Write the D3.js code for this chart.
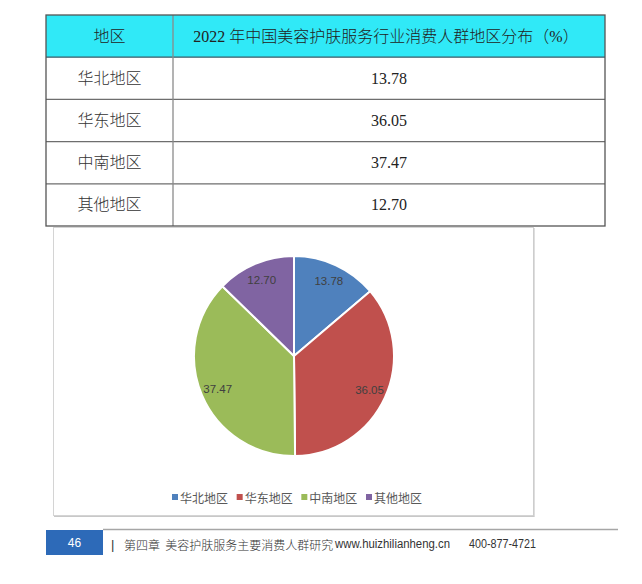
<!DOCTYPE html>
<html>
<head>
<meta charset="utf-8">
<script src="https://cdn.jsdelivr.net/npm/d3@7"></script>
<style>
  html, body { margin: 0; padding: 0; background: #fff; }
  svg { display: block; }
</style>
</head>
<body>
<div id="chart"></div>
<script>
// ---- data ----
const tableHeader = ["地区", "2022 年中国美容护肤服务行业消费人群地区分布（%）"];
const regions = ["华北地区", "华东地区", "中南地区", "其他地区"];
const shares = [13.78, 36.05, 37.47, 12.70];
const shareLabels = ["13.78", "36.05", "37.47", "12.70"];
const pageNumber = "46";
const footerText = "第四章  美容护肤服务主要消费人群研究";
const footerUrl = "www.huizhilianheng.cn";
const footerPhone = "400-877-4721";

const W = 642, H = 584;
const svg = d3.select("#chart").append("svg").attr("width", W).attr("height", H);
svg.append("rect").attr("width", W).attr("height", H).attr("fill", "#fff");

const serif = "'Liberation Serif', 'Noto Sans CJK SC', serif";
const cjk = "'Noto Sans CJK SC', sans-serif";

// ---- table ----
const tLeft = 46, tRight = 605, tDiv = 173, tTop = 15, tBottom = 226;
const rowKeys = ["__header"].concat(regions);
const yRow = d3.scaleBand().domain(rowKeys).range([tTop, tBottom]);
const tbl = svg.append("g");

tbl.append("rect").attr("x", tLeft).attr("y", yRow("__header"))
  .attr("width", tRight - tLeft).attr("height", yRow.bandwidth()).attr("fill", "#30e9f7");

tbl.selectAll("line.h").data(regions).join("line")
  .attr("x1", tLeft).attr("x2", tRight)
  .attr("y1", d => yRow(d)).attr("y2", d => yRow(d))
  .attr("stroke", d => d === regions[0] ? "#3d5a66" : "#6e6e6e").attr("stroke-width", 1.2);
tbl.append("line").attr("x1", tDiv).attr("x2", tDiv).attr("y1", tTop).attr("y2", tBottom)
  .attr("stroke", "#8a8a8a").attr("stroke-width", 1.3);
tbl.append("rect").attr("x", tLeft).attr("y", tTop).attr("width", tRight - tLeft).attr("height", tBottom - tTop)
  .attr("fill", "none").attr("stroke", "#555").attr("stroke-width", 1.3);

const c1 = (tLeft + tDiv) / 2, c2 = (tDiv + tRight) / 2 - 3;
tbl.append("text").attr("x", c1).attr("y", yRow("__header") + yRow.bandwidth() / 2)
  .attr("text-anchor", "middle").attr("dominant-baseline", "central")
  .attr("font-family", serif).attr("font-weight", 300).attr("font-size", 16).attr("fill", "#222").text(tableHeader[0]);
tbl.append("text").attr("x", c2).attr("y", yRow("__header") + yRow.bandwidth() / 2)
  .attr("text-anchor", "middle").attr("dominant-baseline", "central")
  .attr("font-family", serif).attr("font-weight", 300).attr("font-size", 16).attr("fill", "#222").text(tableHeader[1]);

tbl.selectAll("text.r").data(regions).join("text").attr("class", "r")
  .attr("x", c1).attr("y", d => yRow(d) + yRow.bandwidth() / 2)
  .attr("text-anchor", "middle").attr("dominant-baseline", "central")
  .attr("font-family", serif).attr("font-weight", 300).attr("font-size", 16).attr("fill", "#333").text(d => d);
tbl.selectAll("text.v").data(shareLabels).join("text").attr("class", "v")
  .attr("x", c2 + 3).attr("y", (d, i) => yRow(regions[i]) + yRow.bandwidth() / 2)
  .attr("text-anchor", "middle").attr("dominant-baseline", "central")
  .attr("font-family", serif).attr("font-size", 16).attr("fill", "#222").text(d => d);

// ---- chart frame ----
svg.append("rect").attr("x", 53.5).attr("y", 227.5).attr("width", 480).attr("height", 288)
  .attr("fill", "none").attr("stroke", "#d4d4d4").attr("stroke-width", 1);
svg.append("line").attr("x1", 534).attr("x2", 534).attr("y1", 228).attr("y2", 516.5)
  .attr("stroke", "#c8c8c8").attr("stroke-width", 1.2);
svg.append("line").attr("x1", 54).attr("x2", 534.5).attr("y1", 516.5).attr("y2", 516.5)
  .attr("stroke", "#c8c8c8").attr("stroke-width", 1.2);

// ---- pie ----
const colors = ["#4f81bd", "#c0504d", "#9bbb59", "#8064a2"];
const color = d3.scaleOrdinal().domain(regions).range(colors);
const cx = 294, cy = 356, R = 100;
const pie = d3.pie().sort(null).value(d => d)(shares);
const arc = d3.arc().innerRadius(0).outerRadius(R);
const labelArc = d3.arc().innerRadius(83).outerRadius(83);
const pg = svg.append("g").attr("transform", `translate(${cx},${cy})`);
pg.selectAll("path").data(pie).join("path")
  .attr("d", arc).attr("fill", (d, i) => color(regions[i]))
  .attr("stroke", "#fff").attr("stroke-width", 2).attr("stroke-linejoin", "round");
pg.selectAll("text").data(pie).join("text")
  .attr("transform", d => `translate(${labelArc.centroid(d)})`)
  .attr("text-anchor", "middle").attr("dominant-baseline", "central")
  .attr("font-family", "'Liberation Sans', sans-serif").attr("font-size", 11.5)
  .attr("fill", "#404040").text((d, i) => shareLabels[i]);

// ---- legend ----
const lx = d3.scalePoint().domain(regions).range([172, 366]);
const lg = svg.append("g");
lg.selectAll("rect").data(regions).join("rect")
  .attr("x", d => lx(d)).attr("y", 494).attr("width", 6).attr("height", 6)
  .attr("fill", d => color(d));
lg.selectAll("text").data(regions).join("text")
  .attr("x", d => lx(d) + 8).attr("y", 497)
  .attr("dominant-baseline", "central")
  .attr("font-family", cjk).attr("font-size", 12).attr("fill", "#595959").text(d => d);

// ---- footer ----
svg.append("line").attr("x1", 103).attr("x2", 618).attr("y1", 529.5).attr("y2", 529.5)
  .attr("stroke", "#a6a6a6").attr("stroke-width", 1.5);
svg.append("rect").attr("x", 46).attr("y", 530).attr("width", 57).attr("height", 25).attr("fill", "#2d6ab8");
svg.append("text").attr("x", 74.5).attr("y", 543).attr("text-anchor", "middle").attr("dominant-baseline", "central")
  .attr("font-family", "'Liberation Sans', sans-serif").attr("font-size", 12).attr("fill", "#fff").text(pageNumber);
svg.append("text").attr("x", 111).attr("y", 544).attr("dominant-baseline", "central")
  .attr("font-family", "'Liberation Sans', sans-serif").attr("font-size", 13).attr("fill", "#333").text("|");
svg.append("text").attr("x", 124).attr("y", 544).attr("dominant-baseline", "central")
  .attr("font-family", cjk).attr("font-weight", 300).attr("font-size", 12).attr("fill", "#333")
  .attr("xml:space", "preserve").style("white-space", "pre").text(footerText);
svg.append("text").attr("x", 335).attr("y", 544).attr("dominant-baseline", "central")
  .attr("font-family", "'Liberation Sans', sans-serif").attr("font-size", 12).attr("fill", "#333")
  .attr("textLength", 115).attr("lengthAdjust", "spacingAndGlyphs").text(footerUrl);
svg.append("text").attr("x", 469).attr("y", 544).attr("dominant-baseline", "central")
  .attr("font-family", "'Liberation Sans', sans-serif").attr("font-size", 12).attr("fill", "#333")
  .attr("textLength", 67).attr("lengthAdjust", "spacingAndGlyphs").text(footerPhone);
</script>
</body>
</html>
